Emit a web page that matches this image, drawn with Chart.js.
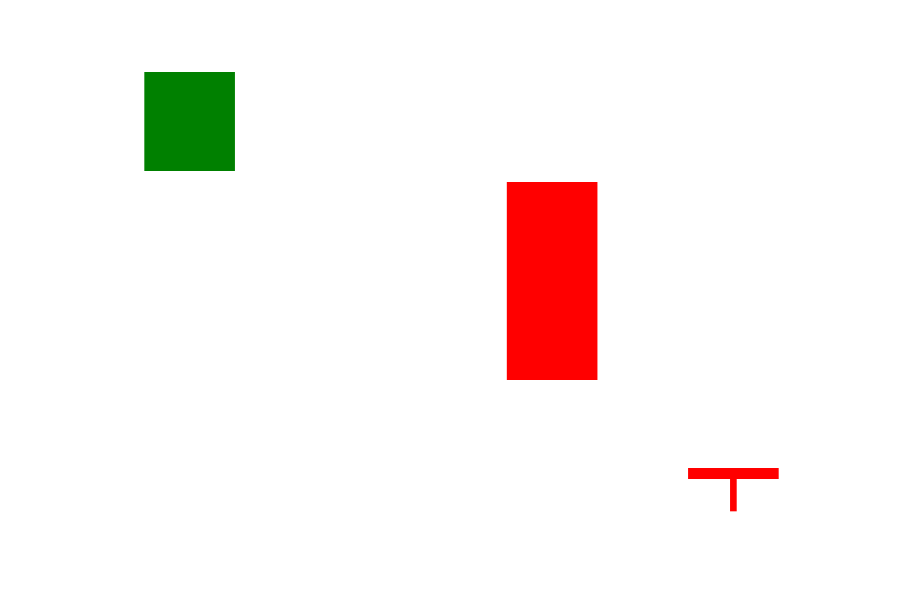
<!DOCTYPE html>
<html>
<head>
<meta charset="utf-8">
<script src="https://cdn.jsdelivr.net/npm/chart.js@4/dist/chart.umd.min.js"></script>
<style>
  html, body { margin: 0; padding: 0; background: #ffffff; }
  #wrap { width: 900px; height: 600px; }
</style>
</head>
<body>
<div id="wrap"><canvas id="c" width="900" height="600"></canvas></div>
<script>
const categories = ["1", "2", "3", "4"];
const openValues  = [75.8, null, 73.6, 16.4];
const closeValues = [95.6, null, 34.0, 14.2];
const highValues  = [95.6, null, 73.6, 16.4];
const lowValues   = [75.8, null, 34.0, 7.8];

const upColor = "#008000";
const downColor = "#ff0000";

const bodies = categories.map((c, i) =>
  openValues[i] == null ? null : [openValues[i], closeValues[i]]);
// wick segments only where they extend beyond the body
const lowerWicks = categories.map((c, i) => {
  if (openValues[i] == null) return null;
  const bottom = Math.min(openValues[i], closeValues[i]);
  const mid = (openValues[i] + closeValues[i]) / 2;
  return lowValues[i] < bottom ? [lowValues[i], mid] : null;
});
const upperWicks = categories.map((c, i) => {
  if (openValues[i] == null) return null;
  const top = Math.max(openValues[i], closeValues[i]);
  const mid = (openValues[i] + closeValues[i]) / 2;
  return highValues[i] > top ? [mid, highValues[i]] : null;
});
const colors = categories.map((c, i) =>
  (closeValues[i] != null && closeValues[i] >= openValues[i]) ? upColor : downColor);

new Chart(document.getElementById("c"), {
  type: "bar",
  data: {
    labels: categories,
    datasets: [
      {
        label: "lower wick",
        data: lowerWicks,
        backgroundColor: colors,
        borderWidth: 0,
        barThickness: 6,
        grouped: false,
        order: 3
      },
      {
        label: "upper wick",
        data: upperWicks,
        backgroundColor: colors,
        borderWidth: 0,
        barThickness: 6,
        grouped: false,
        order: 2
      },
      {
        label: "body",
        data: bodies,
        backgroundColor: colors,
        borderWidth: 0,
        barPercentage: 0.5,
        categoryPercentage: 1.0,
        grouped: false,
        order: 1
      }
    ]
  },
  options: {
    responsive: false,
    animation: false,
    layout: { padding: { left: 99, right: 76, top: 50, bottom: 50 } },
    plugins: { legend: { display: false }, tooltip: { enabled: false }, title: { display: false } },
    scales: {
      x: { display: false, offset: true },
      y: { display: false, min: 0, max: 100 }
    }
  }
});
</script>
</body>
</html>
